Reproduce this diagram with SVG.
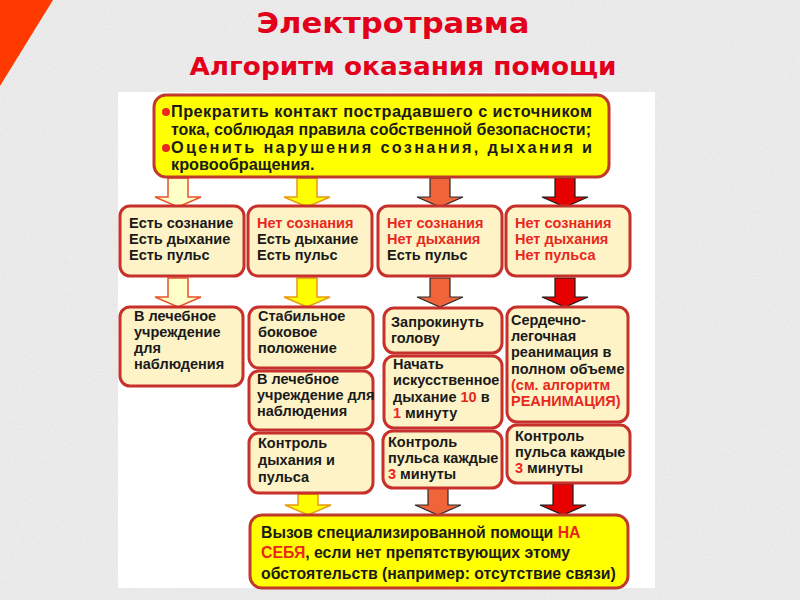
<svg xmlns="http://www.w3.org/2000/svg" width="800" height="600" viewBox="0 0 800 600">
<defs>
<filter id="grain" x="0" y="0" width="100%" height="100%">
<feTurbulence type="fractalNoise" baseFrequency="0.9" numOctaves="2" seed="3" result="n"/>
<feColorMatrix in="n" type="matrix" values="0 0 0 0 0.72  0 0 0 0 0.72  0 0 0 0 0.72  0 0 0 -1.2 0.75" result="g"/>
<feComposite in="g" in2="SourceGraphic" operator="over"/>
</filter>
<style>
.t{font-family:"Liberation Sans",Arial,sans-serif;font-weight:bold;font-size:14.5px;fill:#1a1a1a}
.big{font-size:16.3px}
.mid{font-size:15.8px}
.r{fill:#e8281e}
.box{fill:#fdf3c6;stroke:#c8302c;stroke-width:3}
.ybox{fill:#ffff00;stroke:#c0392b;stroke-width:3}
.title{font-family:"DejaVu Sans",Verdana,sans-serif;font-weight:bold;fill:#e3001b;text-anchor:middle}
.a1{fill:#ffffc8;stroke:#e8532a;stroke-width:1.5}
.a2{fill:#ffff00;stroke:#e89a10;stroke-width:1.5}
.a3{fill:#f0643a;stroke:#2a2a2a;stroke-width:1.2}
.a4{fill:#e80000;stroke:#1a1a1a;stroke-width:1.2}
</style>
</defs>
<rect x="0" y="0" width="800" height="600" fill="#ececec" filter="url(#grain)"/>
<polygon points="0,0 53,0 0,86" fill="#ff3a00"/>
<rect x="118" y="92" width="537" height="496" fill="#ffffff"/>

<g id="title">
<text class="title" x="393" y="33" font-size="29" textLength="273" lengthAdjust="spacingAndGlyphs">Электротравма</text>
<text class="title" x="403" y="75" font-size="24" textLength="427" lengthAdjust="spacingAndGlyphs">Алгоритм оказания помощи</text>
</g>

<g id="connectors">
<path class="a1" d="M168,178 V197 H155 L178,207 L201,197 H188 V178 Z"/>
<path class="a2" d="M297,178 V197 H284 L307,207 L330,197 H317 V178 Z"/>
<path class="a3" d="M430,178 V197 H417 L440,207 L463,197 H450 V178 Z"/>
<path class="a4" d="M555,178 V197 H542 L565,207 L588,197 H575 V178 Z"/>
<path class="a1" d="M168,278 V297 H155 L178,307 L201,297 H188 V278 Z"/>
<path class="a2" d="M297,278 V297 H284 L307,307 L330,297 H317 V278 Z"/>
<path class="a3" d="M430,278 V297 H417 L440,307 L463,297 H450 V278 Z"/>
<path class="a4" d="M555,278 V297 H542 L565,307 L588,297 H575 V278 Z"/>
<path class="a2" d="M298,494 V505 H285 L308,515 L331,505 H318 V494 Z"/>
<path class="a3" d="M428,488 V505 H415 L438,515 L461,505 H448 V488 Z"/>
<path class="a4" d="M553,484 V505 H540 L563,515 L586,505 H573 V484 Z"/>
</g>

<g id="start">
<rect class="ybox" x="154" y="95" width="455" height="82" rx="12"/>
<circle cx="166" cy="112" r="4" fill="#e8281e"/>
<circle cx="166" cy="148" r="4" fill="#e8281e"/>
<text class="t big" x="171" y="117" textLength="421" lengthAdjust="spacing">Прекратить контакт пострадавшего с источником</text>
<text class="t big" x="171" y="135" textLength="420" lengthAdjust="spacingAndGlyphs">тока, соблюдая правила собственной безопасности;</text>
<text class="t big" x="171" y="153" textLength="421" lengthAdjust="spacing">Оценить нарушения сознания, дыхания и</text>
<text class="t big" x="171" y="170">кровообращения.</text>
</g>

<g id="state1">
<rect class="box" x="120" y="206" width="124" height="70" rx="10"/>
<text class="t" x="129" y="228">Есть сознание</text>
<text class="t" x="129" y="244">Есть дыхание</text>
<text class="t" x="129" y="260">Есть пульс</text>
</g>
<g id="state2">
<rect class="box" x="248" y="206" width="124" height="70" rx="10"/>
<text class="t r" x="257" y="228">Нет сознания</text>
<text class="t" x="257" y="244">Есть дыхание</text>
<text class="t" x="257" y="260">Есть пульс</text>
</g>
<g id="state3">
<rect class="box" x="378" y="206" width="124" height="70" rx="10"/>
<text class="t r" x="387" y="228">Нет сознания</text>
<text class="t r" x="387" y="244">Нет дыхания</text>
<text class="t" x="387" y="260">Есть пульс</text>
</g>
<g id="state4">
<rect class="box" x="506" y="206" width="124" height="70" rx="10"/>
<text class="t r" x="515" y="228">Нет сознания</text>
<text class="t r" x="515" y="244">Нет дыхания</text>
<text class="t r" x="515" y="260">Нет пульса</text>
</g>

<g id="act1">
<rect class="box" x="120" y="307" width="123" height="79" rx="10"/>
<text class="t" x="134" y="321">В лечебное</text>
<text class="t" x="134" y="337">учреждение</text>
<text class="t" x="134" y="353">для</text>
<text class="t" x="134" y="369">наблюдения</text>
</g>

<g id="act2a">
<rect class="box" x="249" y="307" width="124" height="61" rx="10"/>
<text class="t" x="258" y="321">Стабильное</text>
<text class="t" x="258" y="337">боковое</text>
<text class="t" x="258" y="353">положение</text>
</g>
<g id="act2b">
<rect class="box" x="249" y="371" width="124" height="59" rx="10"/>
<text class="t" x="257" y="384">В лечебное</text>
<text class="t" x="257" y="400">учреждение для</text>
<text class="t" x="257" y="416">наблюдения</text>
</g>
<g id="act2c">
<rect class="box" x="249" y="433" width="124" height="60" rx="10"/>
<text class="t" x="258" y="448">Контроль</text>
<text class="t" x="258" y="465">дыхания и</text>
<text class="t" x="258" y="482">пульса</text>
</g>

<g id="act3a">
<rect class="box" x="384" y="308" width="118" height="45" rx="10"/>
<text class="t" x="391" y="327">Запрокинуть</text>
<text class="t" x="391" y="343">голову</text>
</g>
<g id="act3b">
<rect class="box" x="384" y="356" width="118" height="72" rx="10"/>
<text class="t" x="393" y="369">Начать</text>
<text class="t" x="393" y="385">искусственное</text>
<text class="t" x="393" y="402">дыхание <tspan class="r">10</tspan> в</text>
<text class="t" x="393" y="418"><tspan class="r">1</tspan> минуту</text>
</g>
<g id="act3c">
<rect class="box" x="383" y="431" width="119" height="57" rx="10"/>
<text class="t" x="388" y="447">Контроль</text>
<text class="t" x="388" y="463">пульса каждые</text>
<text class="t" x="388" y="479"><tspan class="r">3</tspan> минуты</text>
</g>

<g id="act4a">
<rect class="box" x="507" y="307" width="121" height="115" rx="10"/>
<text class="t" x="511" y="325">Сердечно-</text>
<text class="t" x="511" y="341">легочная</text>
<text class="t" x="511" y="357">реанимация в</text>
<text class="t" x="511" y="374">полном объеме</text>
<text class="t r" x="511" y="390">(см. алгоритм</text>
<text class="t r" x="511" y="406">РЕАНИМАЦИЯ)</text>
</g>
<g id="act4b">
<rect class="box" x="507" y="425" width="123" height="58" rx="10"/>
<text class="t" x="515" y="441">Контроль</text>
<text class="t" x="515" y="457">пульса каждые</text>
<text class="t" x="515" y="473"><tspan class="r">3</tspan> минуты</text>
</g>

<g id="call">
<rect class="ybox" x="250" y="515" width="378" height="73" rx="12"/>
<text class="t mid" x="261" y="538">Вызов специализированной помощи <tspan class="r">НА</tspan></text>
<text class="t mid" x="261" y="558"><tspan class="r">СЕБЯ</tspan>, если нет препятствующих этому</text>
<text class="t mid" x="261" y="579">обстоятельств (например: отсутствие связи)</text>
</g>
</svg>
